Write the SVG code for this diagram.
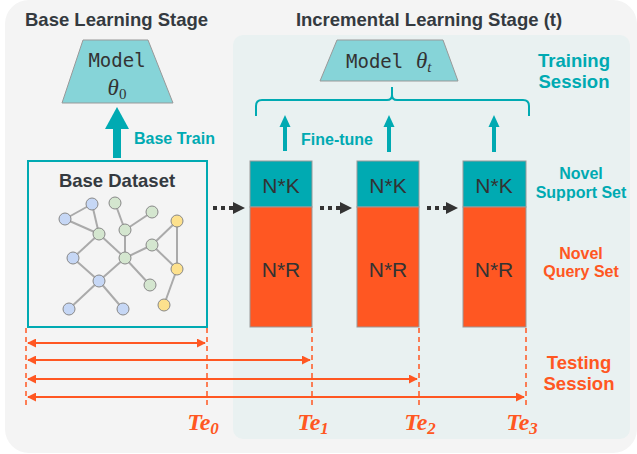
<svg xmlns="http://www.w3.org/2000/svg" width="637" height="454" viewBox="0 0 637 454">
<style>
.title{font-family:"Liberation Sans",Arial,sans-serif;font-weight:bold;font-size:18.5px;fill:#343a40}
.teal{font-family:"Liberation Sans",Arial,sans-serif;font-weight:bold;fill:#00aab2}
.orange{font-family:"Liberation Sans",Arial,sans-serif;font-weight:bold;fill:#ff5722}
.mono{font-family:"DejaVu Sans Mono","Liberation Mono",monospace;font-size:19px;fill:#333}
.theta{font-family:"Liberation Serif","DejaVu Serif",serif;font-style:italic;font-size:23px;fill:#333}
.blk{font-family:"Liberation Sans",Arial,sans-serif;font-size:21px;fill:#333}
.te{font-family:"Liberation Serif","DejaVu Serif",serif;font-style:italic;font-weight:bold;font-size:24px;fill:#ff5722}
.edge{stroke:#aaaaaa;stroke-width:2}
.nd{stroke:#888;stroke-width:1}
.blue{fill:#c6d7f5}.green{fill:#d4e6cf}.yellow{fill:#fde18d}
.dash{stroke:#ff5722;stroke-width:1.5;stroke-dasharray:5 4;fill:none}
.tarrow{stroke:#ff5722;stroke-width:2;fill:none;marker-start:url(#oh);marker-end:url(#oh)}
.dots{stroke:#333;stroke-width:4;stroke-dasharray:4 4;fill:none}
</style>
<defs>
<marker id="oh" viewBox="0 0 10 10" refX="9" refY="5" markerWidth="4.5" markerHeight="4.5" orient="auto-start-reverse" markerUnits="strokeWidth">
<path d="M0,0 L10,5 L0,10 z" fill="#ff5722"/>
</marker>
</defs>
<rect x="5" y="0" width="632" height="453" rx="24" fill="#f4f4f4"/>
<rect x="233" y="35" width="397" height="404" rx="10" fill="#e9f1f1"/>

<text class="title" x="25" y="26">Base Learning Stage</text>
<text class="title" x="429" y="26" text-anchor="middle">Incremental Learning Stage (t)</text>

<g id="model0">
<polygon points="83,40 148,40 173,103 62,103" fill="#86d4d8" stroke="#999" stroke-width="1"/>
<text class="mono" x="117" y="67" text-anchor="middle">Model</text>
<text class="theta" x="117" y="95" text-anchor="middle">θ<tspan font-style="normal" font-size="15" dy="4">0</tspan></text>
</g>

<g id="modelt">
<polygon points="337,40 443,40 458,81 320,81" fill="#86d4d8" stroke="#999" stroke-width="1"/>
<text class="mono" x="346" y="68">Model</text>
<text class="theta" x="416" y="68">θ<tspan font-size="15" dy="4">t</tspan></text>
</g>

<g id="base-dataset">
<rect x="28" y="161" width="179" height="166" fill="#f4f4f4" stroke="#00aab2" stroke-width="2"/>
<text class="title" x="117" y="187" text-anchor="middle">Base Dataset</text>
<g id="graph">
<line class="edge" x1="92" y1="204" x2="65" y2="219"/>
<line class="edge" x1="92" y1="204" x2="99" y2="234"/>
<line class="edge" x1="65" y1="219" x2="99" y2="234"/>
<line class="edge" x1="115" y1="203" x2="125" y2="230"/>
<line class="edge" x1="152" y1="212" x2="125" y2="230"/>
<line class="edge" x1="125" y1="230" x2="125" y2="258"/>
<line class="edge" x1="99" y1="234" x2="73" y2="258"/>
<line class="edge" x1="99" y1="234" x2="125" y2="258"/>
<line class="edge" x1="73" y1="258" x2="99" y2="281"/>
<line class="edge" x1="125" y1="258" x2="99" y2="281"/>
<line class="edge" x1="125" y1="258" x2="152" y2="245"/>
<line class="edge" x1="125" y1="258" x2="150" y2="285"/>
<line class="edge" x1="152" y1="245" x2="177" y2="221"/>
<line class="edge" x1="152" y1="245" x2="177" y2="269"/>
<line class="edge" x1="177" y1="221" x2="177" y2="269"/>
<line class="edge" x1="177" y1="269" x2="164" y2="305"/>
<line class="edge" x1="99" y1="281" x2="69" y2="309"/>
<line class="edge" x1="99" y1="281" x2="123" y2="309"/>
<circle class="nd blue" cx="92" cy="204" r="6"/>
<circle class="nd blue" cx="65" cy="219" r="6"/>
<circle class="nd green" cx="115" cy="203" r="6"/>
<circle class="nd green" cx="152" cy="212" r="6"/>
<circle class="nd yellow" cx="177" cy="221" r="6"/>
<circle class="nd green" cx="99" cy="234" r="6"/>
<circle class="nd green" cx="125" cy="230" r="6"/>
<circle class="nd green" cx="152" cy="245" r="6"/>
<circle class="nd blue" cx="73" cy="258" r="6"/>
<circle class="nd green" cx="125" cy="258" r="6"/>
<circle class="nd yellow" cx="177" cy="269" r="6"/>
<circle class="nd blue" cx="99" cy="281" r="6"/>
<circle class="nd green" cx="150" cy="285" r="6"/>
<circle class="nd blue" cx="69" cy="309" r="6"/>
<circle class="nd blue" cx="123" cy="309" r="6"/>
<circle class="nd yellow" cx="164" cy="305" r="6"/>
</g>
</g>

<g id="session1">
<rect x="250" y="161" width="62" height="46" fill="#00aab2" stroke="#999" stroke-width="1"/>
<rect x="250" y="207" width="62" height="120" fill="#ff5722" stroke="#999" stroke-width="1"/>
<text class="blk" x="281" y="193" text-anchor="middle">N*K</text>
<text class="blk" x="281" y="277" text-anchor="middle">N*R</text>
</g>
<g id="session2">
<rect x="357" y="161" width="62" height="46" fill="#00aab2" stroke="#999" stroke-width="1"/>
<rect x="357" y="207" width="62" height="120" fill="#ff5722" stroke="#999" stroke-width="1"/>
<text class="blk" x="388" y="193" text-anchor="middle">N*K</text>
<text class="blk" x="388" y="277" text-anchor="middle">N*R</text>
</g>
<g id="session3">
<rect x="463" y="161" width="63" height="46" fill="#00aab2" stroke="#999" stroke-width="1"/>
<rect x="463" y="207" width="63" height="120" fill="#ff5722" stroke="#999" stroke-width="1"/>
<text class="blk" x="494" y="193" text-anchor="middle">N*K</text>
<text class="blk" x="494" y="277" text-anchor="middle">N*R</text>
</g>

<g id="labels">
<text class="teal" font-size="18.5" x="574" y="67" text-anchor="middle">Training</text>
<text class="teal" font-size="18.5" x="574" y="88" text-anchor="middle">Session</text>
<text class="teal" font-size="16" x="581" y="179" text-anchor="middle">Novel</text>
<text class="teal" font-size="16" x="581" y="198" text-anchor="middle">Support Set</text>
<text class="orange" font-size="16" x="581" y="259" text-anchor="middle">Novel</text>
<text class="orange" font-size="16" x="581" y="277" text-anchor="middle">Query Set</text>
<text class="orange" font-size="18.5" x="579" y="369" text-anchor="middle">Testing</text>
<text class="orange" font-size="18.5" x="579" y="390" text-anchor="middle">Session</text>
<text class="teal" font-size="16" x="134" y="144">Base Train</text>
<text class="teal" font-size="16" x="301" y="145">Fine-tune</text>
<text class="te" x="203" y="430" text-anchor="middle">Te<tspan font-size="17" dy="4">0</tspan></text>
<text class="te" x="313" y="430" text-anchor="middle">Te<tspan font-size="17" dy="4">1</tspan></text>
<text class="te" x="420" y="430" text-anchor="middle">Te<tspan font-size="17" dy="4">2</tspan></text>
<text class="te" x="522" y="430" text-anchor="middle">Te<tspan font-size="17" dy="4">3</tspan></text>
</g>

<g id="connectors">
<rect x="113" y="127" width="8" height="31" fill="#00aab2"/>
<polygon points="117,107 129,129 105,129" fill="#00aab2"/>
<path d="M256,116 V106 Q256,100 262,100 H387 Q392,100 392,95 V87 M392,95 Q392,100 397,100 H523 Q529,100 529,106 V116" fill="none" stroke="#00aab2" stroke-width="2"/>
<rect x="283" y="126" width="4" height="25" fill="#00aab2"/>
<polygon points="285,115 290.5,127 279.5,127" fill="#00aab2"/>
<rect x="387" y="126" width="4" height="26" fill="#00aab2"/>
<polygon points="389,115 394.5,127 383.5,127" fill="#00aab2"/>
<rect x="492" y="126" width="4" height="26" fill="#00aab2"/>
<polygon points="494,115 499.5,127 488.5,127" fill="#00aab2"/>
<line class="dots" x1="213" y1="208" x2="233" y2="208"/>
<polygon points="233,202 245,208 233,214" fill="#333"/>
<line class="dots" x1="320" y1="208" x2="340" y2="208"/>
<polygon points="340,202 352,208 340,214" fill="#333"/>
<line class="dots" x1="427" y1="208" x2="447" y2="208"/>
<polygon points="446,202 458,208 446,214" fill="#333"/>
<line class="dash" x1="26" y1="328" x2="26" y2="407"/>
<line class="dash" x1="207" y1="328" x2="207" y2="407"/>
<line class="dash" x1="312" y1="328" x2="312" y2="407"/>
<line class="dash" x1="419" y1="328" x2="419" y2="407"/>
<line class="dash" x1="526" y1="328" x2="526" y2="407"/>
<line class="tarrow" x1="28" y1="343" x2="205" y2="343"/>
<line class="tarrow" x1="28" y1="360" x2="310" y2="360"/>
<line class="tarrow" x1="28" y1="379" x2="417" y2="379"/>
<line class="tarrow" x1="28" y1="397" x2="524" y2="397"/>
</g>
</svg>
